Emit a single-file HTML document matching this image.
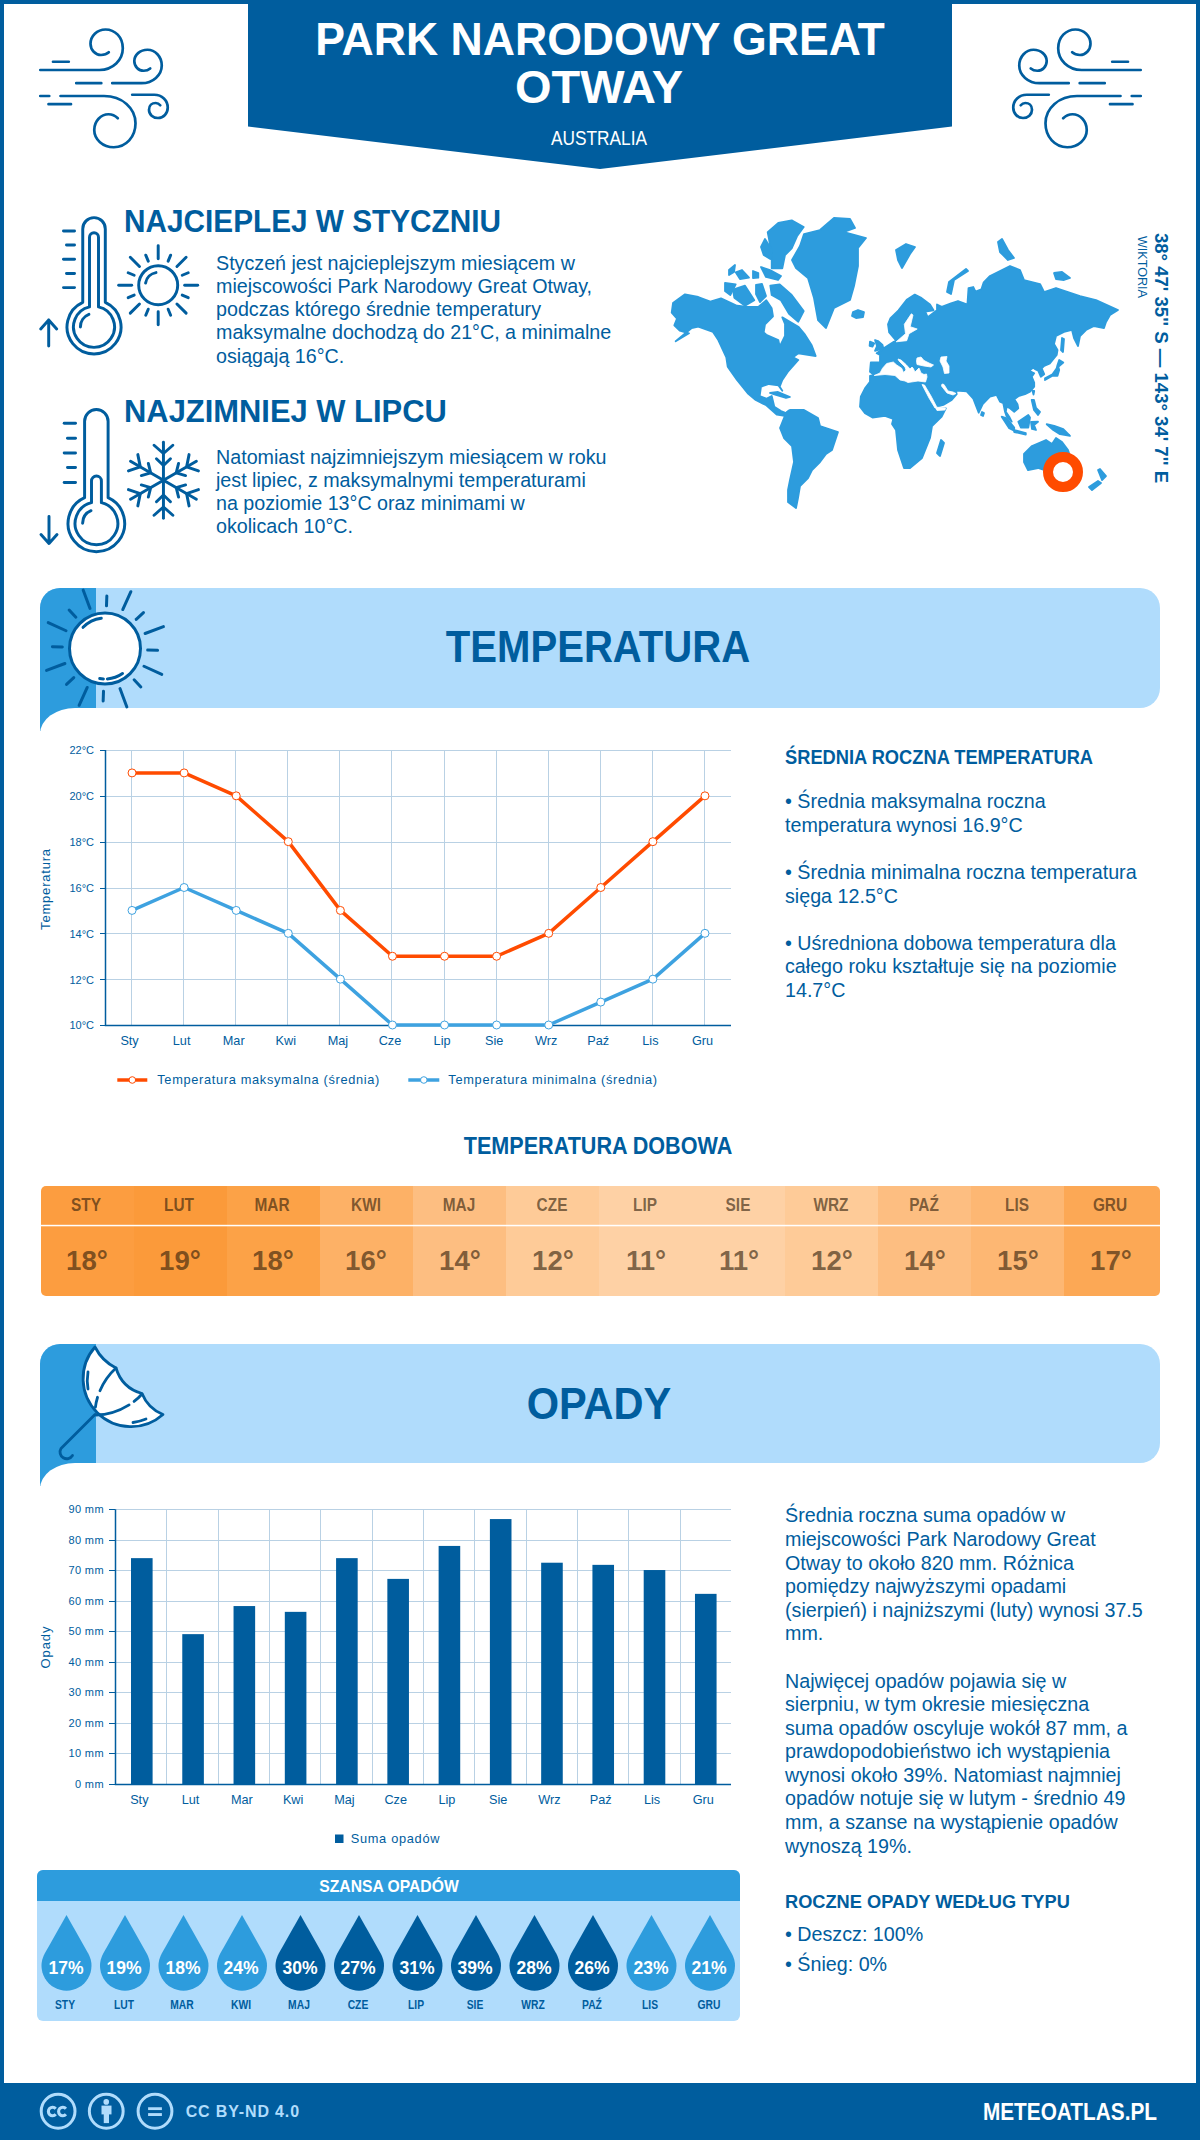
<!DOCTYPE html>
<html><head><meta charset="utf-8"><style>
html,body{margin:0;padding:0;}
body{width:1200px;height:2140px;position:relative;overflow:hidden;background:#fff;font-family:"Liberation Sans", sans-serif;}
.t{position:absolute;white-space:nowrap;line-height:1;}
.p{position:absolute;white-space:nowrap;}
svg{position:absolute;left:0;top:0;}
</style></head><body>
<svg width="1200" height="2140" viewBox="0 0 1200 2140"><rect x="0" y="0" width="1200" height="2140" fill="#005d9e"/><rect x="4" y="4" width="1192" height="2136" fill="#fff"/><polygon points="248,0 952,0 952,126.5 600,169 248,126.5" fill="#005d9e"/><g fill="none" stroke="#005d9e" stroke-width="2.7" stroke-linecap="round"><path d="M1140.7,70 H1081.5 C1068,70 1058.2,60 1058.2,48.25 C1058.2,37 1066,29.5 1075.5,29.5 C1084,29.5 1090.5,36 1090.5,43.75 C1090.5,50 1085.5,55 1080,55 C1076.5,55 1074,54 1072.2,52.3 M1112.2,61.75 H1128 M1068.75,83.2 H1039.5 C1028,83.2 1019.25,75 1019.25,65.5 C1019.25,56.5 1026,49.75 1033.5,49.75 C1041,49.75 1046.7,55 1046.7,61 C1046.7,66.5 1042.5,70.75 1037.25,70.75 C1034.5,70.75 1032.3,69.8 1030.8,68.5 M1079.7,83.2 H1104.75 M1120.5,96 H1077 C1059,96 1045.5,108 1045.5,123.25 C1045.5,137 1055,147.25 1067.25,147.25 C1078,147.25 1086.75,139.5 1086.75,130 C1086.75,121 1080,114.25 1072.5,114.25 C1068.5,114.25 1065.5,116 1063.2,118.3 M1131.75,96 H1140.75 M1110,104.2 H1132.5 M1048.8,94.75 H1026.75 C1019,94.75 1013.25,100.5 1013.25,107.5 C1013.25,113.5 1017.5,118 1023,118 C1028,118 1032,114.5 1032,109.75 C1032,105.5 1029,103 1025.25,103 C1023.3,103 1021.8,104 1020.75,105.25"/><path transform="translate(1181,0) scale(-1,1)" d="M1140.7,70 H1081.5 C1068,70 1058.2,60 1058.2,48.25 C1058.2,37 1066,29.5 1075.5,29.5 C1084,29.5 1090.5,36 1090.5,43.75 C1090.5,50 1085.5,55 1080,55 C1076.5,55 1074,54 1072.2,52.3 M1112.2,61.75 H1128 M1068.75,83.2 H1039.5 C1028,83.2 1019.25,75 1019.25,65.5 C1019.25,56.5 1026,49.75 1033.5,49.75 C1041,49.75 1046.7,55 1046.7,61 C1046.7,66.5 1042.5,70.75 1037.25,70.75 C1034.5,70.75 1032.3,69.8 1030.8,68.5 M1079.7,83.2 H1104.75 M1120.5,96 H1077 C1059,96 1045.5,108 1045.5,123.25 C1045.5,137 1055,147.25 1067.25,147.25 C1078,147.25 1086.75,139.5 1086.75,130 C1086.75,121 1080,114.25 1072.5,114.25 C1068.5,114.25 1065.5,116 1063.2,118.3 M1131.75,96 H1140.75 M1110,104.2 H1132.5 M1048.8,94.75 H1026.75 C1019,94.75 1013.25,100.5 1013.25,107.5 C1013.25,113.5 1017.5,118 1023,118 C1028,118 1032,114.5 1032,109.75 C1032,105.5 1029,103 1025.25,103 C1023.3,103 1021.8,104 1020.75,105.25"/></g></svg><div class="t" style="left:100.00px;width:1000px;text-align:center;top:16.01px;font-size:46.3px;font-weight:bold;color:#fff;transform:scaleX(0.963);transform-origin:center center;">PARK NARODOWY GREAT</div><div class="t" style="left:98.50px;width:1000px;text-align:center;top:64.01px;font-size:46.3px;font-weight:bold;color:#fff;transform:scaleX(1.015);transform-origin:center center;">OTWAY</div><div class="t" style="left:99.00px;width:1000px;text-align:center;top:129.49px;font-size:19.5px;font-weight:normal;color:#fff;transform:scaleX(0.886);transform-origin:center center;">AUSTRALIA</div><div class="t" style="left:124.00px;top:205.56px;font-size:31px;font-weight:bold;color:#005d9e;transform:scaleX(0.96);transform-origin:left center;">NAJCIEPLEJ W STYCZNIU</div><div class="p" style="left:216px;top:251.55px;font-size:19.7px;line-height:23.25px;font-weight:normal;color:#005d9e">Styczeń jest najcieplejszym miesiącem w<br>miejscowości Park Narodowy Great Otway,<br>podczas którego średnie temperatury<br>maksymalne dochodzą do 21°C, a minimalne<br>osiągają 16°C.</div><div class="t" style="left:124.00px;top:395.56px;font-size:31px;font-weight:bold;color:#005d9e;transform:scaleX(0.997);transform-origin:left center;">NAJZIMNIEJ W LIPCU</div><div class="p" style="left:216px;top:445.52px;font-size:19.7px;line-height:23.3px;font-weight:normal;color:#005d9e">Natomiast najzimniejszym miesiącem w roku<br>jest lipiec, z maksymalnymi temperaturami<br>na poziomie 13°C oraz minimami w<br>okolicach 10°C.</div><svg width="1200" height="2140" viewBox="0 0 1200 2140"><g fill="none" stroke="#005d9e" stroke-width="2.95" stroke-linecap="round" stroke-linejoin="round"><path d="M82.75,302.37 V228.88 A11.274999999999999,11.274999999999999 0 0 1 105.3,228.88 V302.37 A27.0,27.0 0 1 1 82.75,302.37 Z"/><path d="M89.5,306.90 V237.30 A4.5,4.5 0 0 1 98.5,237.30 V306.90 A20.5,20.5 0 1 1 89.5,306.90 Z"/><path d="M63.5,231 H74.5"/><path d="M66.5,245 H74.5"/><path d="M63.5,259.3 H74.5"/><path d="M66.5,273.5 H74.5"/><path d="M63.5,287.6 H74.5"/><path d="M48.7,346 V320 M40.7,329 L48.7,320 L56.7,329"/><path d="M84.6,497.65 V421.25 A11.75,11.75 0 0 1 108.1,421.25 V497.65 A28.3,28.3 0 1 1 84.6,497.65 Z"/><path d="M91.5,502.63 V480.95 A4.950000000000003,4.950000000000003 0 0 1 101.4,480.95 V502.63 A21.35,21.35 0 1 1 91.5,502.63 Z"/><path d="M64.2,423.2 H75.5"/><path d="M67.5,438.2 H75.5"/><path d="M64.2,452.9 H75.5"/><path d="M67.5,467.5 H75.5"/><path d="M64.2,482.5 H75.5"/><path d="M49,516.5 V543.5 M41,534.5 L49,543.5 L57,534.5"/><path d="M80.40,326.90 A13.6,13.6 0 0 1 88.91,314.29"/><path d="M82.60,523.16 A13.8,13.8 0 0 1 91.01,510.70"/><circle cx="158.2" cy="285.2" r="19.5"/><path d="M145.59,282.98 A12.8,12.8 0 0 1 155.98,272.59"/><path d="M184.70,285.20 L197.70,285.20"/><path d="M182.22,295.15 L188.23,297.64"/><path d="M176.94,303.94 L186.13,313.13"/><path d="M168.15,309.22 L170.64,315.23"/><path d="M158.20,311.70 L158.20,324.70"/><path d="M148.25,309.22 L145.76,315.23"/><path d="M139.46,303.94 L130.27,313.13"/><path d="M134.18,295.15 L128.17,297.64"/><path d="M131.70,285.20 L118.70,285.20"/><path d="M134.18,275.25 L128.17,272.76"/><path d="M139.46,266.46 L130.27,257.27"/><path d="M148.25,261.18 L145.76,255.17"/><path d="M158.20,258.70 L158.20,245.70"/><path d="M168.15,261.18 L170.64,255.17"/><path d="M176.94,266.46 L186.13,257.27"/><path d="M182.22,275.25 L188.23,272.76"/><path d="M163.45,480.25 L163.45,442.25"/><path d="M172.85,445.25 L163.45,453.50 L154.05,445.25"/><path d="M170.45,458.75 L163.45,465.50 L156.45,458.75"/><path d="M163.45,480.25 L130.54,461.25"/><path d="M137.84,454.61 L140.28,466.88 L128.44,470.89"/><path d="M148.33,463.44 L150.68,472.88 L141.33,475.56"/><path d="M163.45,480.25 L130.54,499.25"/><path d="M128.44,489.61 L140.28,493.62 L137.84,505.89"/><path d="M141.33,484.94 L150.68,487.62 L148.33,497.06"/><path d="M163.45,480.25 L163.45,518.25"/><path d="M154.05,515.25 L163.45,507.00 L172.85,515.25"/><path d="M156.45,501.75 L163.45,495.00 L170.45,501.75"/><path d="M163.45,480.25 L196.36,499.25"/><path d="M189.06,505.89 L186.62,493.62 L198.46,489.61"/><path d="M178.57,497.06 L176.22,487.62 L185.57,484.94"/><path d="M163.45,480.25 L196.36,461.25"/><path d="M198.46,470.89 L186.62,466.88 L189.06,454.61"/><path d="M185.57,475.56 L176.22,472.88 L178.57,463.44"/></g></svg><svg width="1200" height="2140" viewBox="0 0 1200 2140"><g fill="#2d9cdd" stroke="#2d9cdd" stroke-width="1.8" stroke-linejoin="round"><polygon points="671.7,312.7 673.0,303.0 685.0,294.3 698.3,297.0 710.3,301.7 721.0,298.3 737.0,305.7 747.7,307.0 758.3,307.0 766.3,300.3 771.7,308.3 773.0,316.3 765.0,324.3 763.7,332.3 766.3,334.7 778.3,340.0 779.7,346.7 785.0,336.0 785.0,324.0 782.3,317.3 798.3,326.7 805.0,334.7 811.7,345.3 815.7,356.0 798.3,353.3 793.0,357.3 798.3,360.0 787.7,372.0 782.3,380.0 779.7,386.7 782.3,390.7 778.3,385.3 769.0,384.0 761.0,386.7 759.7,396.0 766.3,398.7 771.7,396.0 773.0,401.3 774.3,406.7 781.0,411.0 786.0,413.0 789.0,410.5 790.0,412.0 786.0,416.0 777.0,414.7 766.3,405.3 755.7,400.0 747.7,393.3 737.0,380.0 727.7,366.7 726.3,357.3 718.3,340.0 713.0,332.0 698.3,326.7 691.7,328.0 675.7,341.3 689.0,333.3 679.7,330.7 674.3,325.3 677.0,318.7"/><polygon points="770.0,393.0 778.0,392.0 790.0,397.0 786.0,398.0 776.0,395.0"/><polygon points="767.7,232.3 778.3,223.0 791.7,220.3 803.7,227.0 797.0,236.3 791.7,248.3 785.0,255.0 782.3,268.3 771.7,268.3 771.7,255.0 769.0,239.0"/><polygon points="761.0,247.0 765.0,239.0 771.7,249.7 770.3,259.0 763.7,255.0"/><polygon points="770.3,285.7 779.7,284.3 791.7,295.0 803.7,311.0 798.3,321.7 789.0,313.7 781.0,300.3 771.7,295.0"/><polygon points="733.0,289.7 745.0,285.7 754.3,300.3 745.0,305.7 734.3,297.7"/><polygon points="725.0,283.0 735.7,284.3 730.3,295.0 725.0,291.0"/><polygon points="735.7,272.3 742.0,270.0 749.0,277.7 740.0,279.0"/><polygon points="753.0,271.0 758.3,273.0 758.3,277.7 753.0,278.0"/><polygon points="761.0,267.0 770.0,270.0 781.0,276.0 778.0,280.0 766.0,277.0"/><polygon points="729.0,270.0 735.0,265.0 734.0,272.0 729.0,275.0"/><polygon points="756.0,285.0 762.0,284.0 766.0,296.0 760.0,302.0 756.0,294.0"/><polygon points="792.0,260.0 800.0,246.0 804.0,234.0 820.0,230.0 834.0,218.0 850.0,219.0 855.0,228.0 844.0,232.0 866.0,238.0 858.0,248.0 858.0,266.0 854.0,286.0 850.0,300.0 834.0,308.0 826.0,328.0 818.0,320.0 814.0,298.0 808.0,278.0 796.0,268.0"/><polygon points="853.0,312.0 858.0,310.0 864.0,312.0 863.0,317.0 856.0,318.0 852.0,316.0"/><polygon points="896.0,250.0 906.0,244.0 915.0,247.0 910.0,254.0 902.0,268.0 898.0,260.0"/><polygon points="966.0,269.0 968.0,271.0 954.0,280.0 951.0,294.0 947.0,292.0 949.0,282.0"/><polygon points="998.0,242.0 1002.0,239.0 1008.0,250.0 1014.0,258.0 1008.0,260.0 1000.0,252.0"/><polygon points="1054.0,273.0 1062.0,272.0 1070.0,278.0 1064.0,280.0 1056.0,279.0"/><polygon points="888.0,324.3 890.3,318.5 898.5,310.3 906.7,299.8 914.8,294.6 920.7,297.5 930.0,304.5 933.5,310.3 925.3,311.5 927.7,317.3 937.0,310.3 937.0,304.5 941.7,306.8 951.0,303.3 958.0,301.0 967.4,304.5 968.5,288.2 973.2,287.0 975.5,291.7 981.4,289.3 983.7,282.3 990.0,276.0 1010.0,266.0 1020.0,270.0 1024.0,280.0 1040.0,284.0 1044.0,292.0 1056.0,288.0 1080.0,296.0 1096.0,300.0 1118.0,310.0 1110.0,315.0 1106.0,322.0 1104.0,328.0 1094.0,326.0 1086.0,330.0 1080.0,336.0 1078.0,346.0 1074.0,338.0 1072.0,330.0 1064.0,332.0 1056.0,336.0 1054.0,344.0 1057.5,350.0 1056.7,355.0 1050.0,363.3 1044.2,365.8 1041.7,368.3 1044.2,374.2 1040.8,376.7 1038.3,370.8 1035.0,369.2 1033.3,367.5 1029.2,370.8 1034.2,373.3 1031.7,376.7 1034.2,382.5 1034.2,386.7 1030.0,391.7 1025.0,394.2 1019.2,395.8 1014.2,399.2 1017.5,404.2 1018.3,408.3 1014.2,411.7 1010.0,408.3 1006.7,406.7 1005.8,411.7 1009.2,416.7 1011.7,421.7 1006.7,416.7 1005.0,411.7 1003.3,403.3 1000.0,401.7 996.7,395.0 990.0,396.7 988.0,398.7 982.7,404.0 978.7,412.7 973.3,398.7 966.7,391.3 956.0,390.7 956.7,394.2 951.7,400.0 943.3,405.0 936.7,406.7 935.3,405.3 925.3,388.0 922.7,384.0 906.7,383.9 895.0,376.8 876.0,376.0 874.2,375.0 870.0,371.7 870.8,362.5 880.0,362.5 880.0,355.0 876.7,353.3 883.3,348.5 893.8,341.8 896.2,340.7 889.2,332.5"/><polygon points="874.2,375.0 870.0,375.8 870.0,381.7 865.0,388.3 860.8,396.7 860.0,406.7 865.0,413.3 872.5,417.5 885.0,415.8 893.3,419.0 892.0,424.0 896.0,430.0 898.0,450.0 904.0,468.0 910.0,468.0 922.0,458.0 930.0,438.0 932.0,426.0 941.7,416.7 945.8,408.3 936.7,408.3 935.3,405.3 925.3,388.0 922.7,384.0 906.7,383.9 895.0,376.8 876.0,376.0"/><polygon points="780.0,428.0 786.0,413.0 790.0,410.0 804.0,410.0 818.0,418.0 820.0,426.0 838.0,432.0 832.0,450.0 826.0,454.0 820.0,462.0 812.0,470.0 808.0,478.0 800.0,486.0 798.0,498.0 796.0,508.0 788.0,502.0 788.0,490.0 790.0,480.0 794.0,462.0 792.0,446.0 784.0,438.0"/><polygon points="1024.0,454.0 1032.0,446.0 1046.0,440.0 1052.0,444.0 1056.0,438.0 1062.0,442.0 1068.0,450.0 1072.0,462.0 1068.0,474.0 1050.0,472.0 1038.0,468.0 1028.0,470.0 1024.0,462.0"/><polygon points="1058.0,478.0 1064.0,478.0 1062.0,484.0"/><polygon points="1098.0,470.0 1100.0,469.0 1106.0,476.0 1102.0,480.0"/><polygon points="1098.0,481.0 1101.0,483.0 1092.0,490.0 1089.0,487.0"/><polygon points="941.0,440.0 944.0,443.0 940.0,456.0 937.0,453.0"/><polygon points="1018.3,421.7 1028.3,415.0 1030.0,417.5 1028.3,427.5 1020.8,427.5"/><polygon points="1001.7,416.7 1006.7,418.3 1014.2,427.5 1014.2,430.8 1009.2,428.3"/><polygon points="1014.2,430.0 1025.8,433.0 1025.8,434.5 1014.2,432.0"/><polygon points="1031.0,422.0 1038.0,421.7 1034.0,425.0 1036.0,430.0 1032.0,429.0"/><polygon points="1046.7,424.2 1054.2,425.8 1063.3,429.2 1070.0,435.8 1060.0,434.2 1053.3,430.0"/><polygon points="1031.7,400.0 1034.0,400.0 1036.0,408.0 1040.0,412.0 1038.0,415.0 1034.0,410.0"/><polygon points="1032.5,390.8 1034.2,391.0 1033.5,394.5"/><polygon points="1059.2,360.0 1063.3,362.5 1058.3,366.7 1059.2,370.0 1057.5,375.8 1052.5,375.8 1045.0,380.0 1045.0,378.3 1052.5,374.2 1056.7,368.3 1057.5,365.0"/><polygon points="1062.0,338.0 1064.0,339.0 1063.0,352.0 1061.0,350.0"/><polygon points="875.0,340.0 878.0,341.0 882.5,345.0 883.3,348.3 875.0,350.8 877.0,346.0"/><polygon points="870.0,341.7 874.2,343.3 872.5,346.7 869.6,345.8"/><polygon points="982.0,412.0 984.0,413.0 983.0,416.0 981.0,415.0"/></g><g fill="#fff" stroke="#fff" stroke-width="0.8" stroke-linejoin="round"><polygon points="874.2,375.5 880.0,373.0 882.5,368.3 886.7,363.5 893.3,362.0 896.7,365.0 901.7,368.3 903.5,372.5 906.0,370.0 905.0,367.0 899.0,361.0 898.0,359.0 901.0,360.0 906.0,364.5 910.0,369.0 912.0,367.0 913.0,368.0 915.0,372.0 917.0,370.0 919.0,368.0 921.0,373.0 924.0,374.5 926.5,374.0 927.0,377.0 925.5,382.0 918.0,381.0 908.0,382.5 905.0,381.0 900.0,380.0 895.0,375.5 885.0,374.5"/><polygon points="917.0,358.0 921.0,357.0 924.0,360.5 930.0,363.5 933.5,365.0 931.0,367.0 924.0,366.0 917.0,364.5 916.5,361.0"/><polygon points="941.0,357.0 947.0,356.5 946.0,361.0 949.0,366.0 949.0,373.0 944.5,373.5 943.0,367.0 940.0,361.0"/><polygon points="911.3,313.8 904.3,324.3 905.5,333.7 896.2,341.8 906.7,340.7 909.0,333.7 917.2,329.0 910.2,326.7 913.0,315.0"/><polygon points="922.0,384.5 924.5,385.0 931.0,396.0 936.5,406.5 935.0,408.0 929.0,398.0"/><polygon points="935.0,407.0 945.5,408.0 945.0,410.0 937.0,410.5"/><polygon points="942.0,384.0 944.0,384.5 948.0,391.0 953.0,392.0 956.0,393.5 953.0,395.0 947.0,393.0 941.5,386.0"/></g><circle cx="1063" cy="472" r="15" fill="#fff" stroke="#ff4b00" stroke-width="10"/></svg><div class="t" style="left:1160.8px;top:357.5px;font-size:18.6px;font-weight:bold;color:#005d9e;transform:translate(-50%,-50%) rotate(90deg);">38° 47' 35'' S — 143° 34' 7'' E</div><div class="t" style="left:1141.6px;top:267px;font-size:12.6px;color:#005d9e;transform:translate(-50%,-50%) rotate(90deg);">WIKTORIA</div><div style="position:absolute;left:39.5px;top:588px;width:1120.5px;height:120px;background:#b0dcfc;border-radius:20px 20px 20px 0;"></div><div style="position:absolute;left:39.5px;top:588px;width:56.5px;height:143px;background:#2d9cdd;border-top-left-radius:20px;"></div><div style="position:absolute;left:39.5px;top:708px;width:200px;height:40px;background:#fff;border-top-left-radius:35px 26px;"></div><div class="t" style="left:98.20px;width:1000px;text-align:center;top:625.46px;font-size:44.7px;font-weight:bold;color:#005d9e;transform:scaleX(0.897);transform-origin:center center;">TEMPERATURA</div><svg width="1200" height="2140" viewBox="0 0 1200 2140"><g fill="none" stroke="#005d9e" stroke-width="3" stroke-linecap="round"><circle cx="105" cy="648.5" r="35.5" fill="#fff"/><path d="M106.49,605.83 L106.84,595.93"/><path d="M122.75,609.55 L130.88,591.72"/><path d="M136.23,619.38 L143.47,612.63"/><path d="M145.09,633.51 L163.45,626.65"/><path d="M147.67,649.99 L157.57,650.34"/><path d="M143.95,666.25 L161.78,674.38"/><path d="M134.12,679.73 L140.87,686.97"/><path d="M119.99,688.59 L126.85,706.95"/><path d="M103.51,691.17 L103.16,701.07"/><path d="M87.25,687.45 L79.12,705.28"/><path d="M73.77,677.62 L66.53,684.37"/><path d="M64.91,663.49 L46.55,670.35"/><path d="M62.33,647.01 L52.43,646.66"/><path d="M66.05,630.75 L48.22,622.62"/><path d="M75.88,617.27 L69.13,610.03"/><path d="M90.01,608.41 L83.15,590.05"/><path d="M83.06,627.31 A30.5,30.5 0 0 1 101.28,618.23"/><path d="M99.70,678.54 A30.5,30.5 0 0 0 103.40,678.96"/><path d="M107.39,678.91 A30.5,30.5 0 0 0 122.49,673.48"/></g></svg><div style="position:absolute;left:39.5px;top:1344px;width:1120.5px;height:118.5px;background:#b0dcfc;border-radius:20px 20px 20px 0;"></div><div style="position:absolute;left:39.5px;top:1344px;width:56.5px;height:142px;background:#2d9cdd;border-top-left-radius:20px;"></div><div style="position:absolute;left:39.5px;top:1462.5px;width:200px;height:40px;background:#fff;border-top-left-radius:35px 26px;"></div><div class="t" style="left:99.30px;width:1000px;text-align:center;top:1381.66px;font-size:44.7px;font-weight:bold;color:#005d9e;transform:scaleX(0.93);transform-origin:center center;">OPADY</div><svg width="1200" height="2140" viewBox="0 0 1200 2140"><g fill="none" stroke="#005d9e" stroke-width="2.8" stroke-linecap="round" stroke-linejoin="round"><path fill="#fff" d="M95,1347 Q102,1361 116,1368 Q122,1388 142,1393.5 Q148,1408.5 163,1414.5 A48,48 0 0 1 95,1347 Z"/><path d="M95,1414.5 L61,1448.5 A6.2,6.2 0 0 0 72.5,1455.5"/><path stroke-dasharray="28 7 10 40" d="M116,1368 C105,1378 95,1395 95,1414"/><path stroke-dasharray="35 6 11 40" d="M96,1415 C110,1415 130,1408 142,1394"/><path d="M88,1372 Q86.5,1381 88,1389"/><path d="M133,1422.5 Q140,1421.5 146,1419"/></g></svg><svg width="1200" height="2140" viewBox="0 0 1200 2140"><path d="M100,1025.5 H106" stroke="#005d9e" stroke-width="1"/><path d="M106,979.5 H731" stroke="#b9d1e4" stroke-width="1"/><path d="M100,979.5 H106" stroke="#005d9e" stroke-width="1"/><path d="M106,933.5 H731" stroke="#b9d1e4" stroke-width="1"/><path d="M100,933.5 H106" stroke="#005d9e" stroke-width="1"/><path d="M106,888.5 H731" stroke="#b9d1e4" stroke-width="1"/><path d="M100,888.5 H106" stroke="#005d9e" stroke-width="1"/><path d="M106,842.5 H731" stroke="#b9d1e4" stroke-width="1"/><path d="M100,842.5 H106" stroke="#005d9e" stroke-width="1"/><path d="M106,796.5 H731" stroke="#b9d1e4" stroke-width="1"/><path d="M100,796.5 H106" stroke="#005d9e" stroke-width="1"/><path d="M106,750.5 H731" stroke="#b9d1e4" stroke-width="1"/><path d="M100,750.5 H106" stroke="#005d9e" stroke-width="1"/><path d="M131.5,750 V1025" stroke="#b9d1e4" stroke-width="1"/><path d="M183.5,750 V1025" stroke="#b9d1e4" stroke-width="1"/><path d="M235.5,750 V1025" stroke="#b9d1e4" stroke-width="1"/><path d="M287.5,750 V1025" stroke="#b9d1e4" stroke-width="1"/><path d="M339.5,750 V1025" stroke="#b9d1e4" stroke-width="1"/><path d="M391.5,750 V1025" stroke="#b9d1e4" stroke-width="1"/><path d="M444.5,750 V1025" stroke="#b9d1e4" stroke-width="1"/><path d="M496.5,750 V1025" stroke="#b9d1e4" stroke-width="1"/><path d="M548.5,750 V1025" stroke="#b9d1e4" stroke-width="1"/><path d="M600.5,750 V1025" stroke="#b9d1e4" stroke-width="1"/><path d="M652.5,750 V1025" stroke="#b9d1e4" stroke-width="1"/><path d="M704.5,750 V1025" stroke="#b9d1e4" stroke-width="1"/><path d="M105.5,750 V1025.5 H731" stroke="#005d9e" stroke-width="1.5" fill="none"/><polyline points="132.04,910.42 184.12,887.50 236.21,910.42 288.29,933.33 340.38,979.17 392.46,1025.00 444.54,1025.00 496.62,1025.00 548.71,1025.00 600.79,1002.08 652.88,979.17 704.96,933.33" fill="none" stroke="#3ea2e0" stroke-width="3.5" stroke-linejoin="round"/><circle cx="132.04" cy="910.42" r="4" fill="#fff" stroke="#3ea2e0" stroke-width="1"/><circle cx="184.12" cy="887.50" r="4" fill="#fff" stroke="#3ea2e0" stroke-width="1"/><circle cx="236.21" cy="910.42" r="4" fill="#fff" stroke="#3ea2e0" stroke-width="1"/><circle cx="288.29" cy="933.33" r="4" fill="#fff" stroke="#3ea2e0" stroke-width="1"/><circle cx="340.38" cy="979.17" r="4" fill="#fff" stroke="#3ea2e0" stroke-width="1"/><circle cx="392.46" cy="1025.00" r="4" fill="#fff" stroke="#3ea2e0" stroke-width="1"/><circle cx="444.54" cy="1025.00" r="4" fill="#fff" stroke="#3ea2e0" stroke-width="1"/><circle cx="496.62" cy="1025.00" r="4" fill="#fff" stroke="#3ea2e0" stroke-width="1"/><circle cx="548.71" cy="1025.00" r="4" fill="#fff" stroke="#3ea2e0" stroke-width="1"/><circle cx="600.79" cy="1002.08" r="4" fill="#fff" stroke="#3ea2e0" stroke-width="1"/><circle cx="652.88" cy="979.17" r="4" fill="#fff" stroke="#3ea2e0" stroke-width="1"/><circle cx="704.96" cy="933.33" r="4" fill="#fff" stroke="#3ea2e0" stroke-width="1"/><polyline points="132.04,772.92 184.12,772.92 236.21,795.83 288.29,841.67 340.38,910.42 392.46,956.25 444.54,956.25 496.62,956.25 548.71,933.33 600.79,887.50 652.88,841.67 704.96,795.83" fill="none" stroke="#ff4b00" stroke-width="3.5" stroke-linejoin="round"/><circle cx="132.04" cy="772.92" r="4" fill="#fff" stroke="#ff4b00" stroke-width="1"/><circle cx="184.12" cy="772.92" r="4" fill="#fff" stroke="#ff4b00" stroke-width="1"/><circle cx="236.21" cy="795.83" r="4" fill="#fff" stroke="#ff4b00" stroke-width="1"/><circle cx="288.29" cy="841.67" r="4" fill="#fff" stroke="#ff4b00" stroke-width="1"/><circle cx="340.38" cy="910.42" r="4" fill="#fff" stroke="#ff4b00" stroke-width="1"/><circle cx="392.46" cy="956.25" r="4" fill="#fff" stroke="#ff4b00" stroke-width="1"/><circle cx="444.54" cy="956.25" r="4" fill="#fff" stroke="#ff4b00" stroke-width="1"/><circle cx="496.62" cy="956.25" r="4" fill="#fff" stroke="#ff4b00" stroke-width="1"/><circle cx="548.71" cy="933.33" r="4" fill="#fff" stroke="#ff4b00" stroke-width="1"/><circle cx="600.79" cy="887.50" r="4" fill="#fff" stroke="#ff4b00" stroke-width="1"/><circle cx="652.88" cy="841.67" r="4" fill="#fff" stroke="#ff4b00" stroke-width="1"/><circle cx="704.96" cy="795.83" r="4" fill="#fff" stroke="#ff4b00" stroke-width="1"/><path d="M117.3,1080 H147.3" stroke="#ff4b00" stroke-width="3.5"/><circle cx="132.3" cy="1080" r="3.3" fill="#fff" stroke="#ff4b00" stroke-width="1"/><path d="M408.3,1080 H439.3" stroke="#3ea2e0" stroke-width="3.5"/><circle cx="423.8" cy="1080" r="3.3" fill="#fff" stroke="#3ea2e0" stroke-width="1"/></svg><div class="t" style="left:-906.00px;width:1000px;text-align:right;top:1020.49px;font-size:11px;font-weight:normal;color:#005d9e;">10°C</div><div class="t" style="left:-906.00px;width:1000px;text-align:right;top:974.66px;font-size:11px;font-weight:normal;color:#005d9e;">12°C</div><div class="t" style="left:-906.00px;width:1000px;text-align:right;top:928.82px;font-size:11px;font-weight:normal;color:#005d9e;">14°C</div><div class="t" style="left:-906.00px;width:1000px;text-align:right;top:882.99px;font-size:11px;font-weight:normal;color:#005d9e;">16°C</div><div class="t" style="left:-906.00px;width:1000px;text-align:right;top:837.16px;font-size:11px;font-weight:normal;color:#005d9e;">18°C</div><div class="t" style="left:-906.00px;width:1000px;text-align:right;top:791.32px;font-size:11px;font-weight:normal;color:#005d9e;">20°C</div><div class="t" style="left:-906.00px;width:1000px;text-align:right;top:745.49px;font-size:11px;font-weight:normal;color:#005d9e;">22°C</div><div class="t" style="left:-370.46px;width:1000px;text-align:center;top:1035.25px;font-size:12.7px;font-weight:normal;color:#005d9e;">Sty</div><div class="t" style="left:-318.38px;width:1000px;text-align:center;top:1035.25px;font-size:12.7px;font-weight:normal;color:#005d9e;">Lut</div><div class="t" style="left:-266.29px;width:1000px;text-align:center;top:1035.25px;font-size:12.7px;font-weight:normal;color:#005d9e;">Mar</div><div class="t" style="left:-214.21px;width:1000px;text-align:center;top:1035.25px;font-size:12.7px;font-weight:normal;color:#005d9e;">Kwi</div><div class="t" style="left:-162.12px;width:1000px;text-align:center;top:1035.25px;font-size:12.7px;font-weight:normal;color:#005d9e;">Maj</div><div class="t" style="left:-110.04px;width:1000px;text-align:center;top:1035.25px;font-size:12.7px;font-weight:normal;color:#005d9e;">Cze</div><div class="t" style="left:-57.96px;width:1000px;text-align:center;top:1035.25px;font-size:12.7px;font-weight:normal;color:#005d9e;">Lip</div><div class="t" style="left:-5.88px;width:1000px;text-align:center;top:1035.25px;font-size:12.7px;font-weight:normal;color:#005d9e;">Sie</div><div class="t" style="left:46.21px;width:1000px;text-align:center;top:1035.25px;font-size:12.7px;font-weight:normal;color:#005d9e;">Wrz</div><div class="t" style="left:98.29px;width:1000px;text-align:center;top:1035.25px;font-size:12.7px;font-weight:normal;color:#005d9e;">Paź</div><div class="t" style="left:150.38px;width:1000px;text-align:center;top:1035.25px;font-size:12.7px;font-weight:normal;color:#005d9e;">Lis</div><div class="t" style="left:202.46px;width:1000px;text-align:center;top:1035.25px;font-size:12.7px;font-weight:normal;color:#005d9e;">Gru</div><div class="t" style="left:45px;top:888.5px;font-size:13px;letter-spacing:0.8px;color:#005d9e;transform:translate(-50%,-50%) rotate(-90deg);">Temperatura</div><div class="t" style="left:157.30px;top:1073.66px;font-size:12.8px;font-weight:normal;color:#005d9e;letter-spacing:0.67px;">Temperatura maksymalna (średnia)</div><div class="t" style="left:448.30px;top:1073.66px;font-size:12.8px;font-weight:normal;color:#005d9e;letter-spacing:0.7px;">Temperatura minimalna (średnia)</div><div class="t" style="left:785.00px;top:747.07px;font-size:20px;font-weight:bold;color:#005d9e;transform:scaleX(0.914);transform-origin:left center;">ŚREDNIA ROCZNA TEMPERATURA</div><div class="p" style="left:785px;top:790.17px;font-size:19.7px;line-height:23.6px;font-weight:normal;color:#005d9e">• Średnia maksymalna roczna<br>temperatura wynosi 16.9°C<br><br>• Średnia minimalna roczna temperatura<br>sięga 12.5°C<br><br>• Uśredniona dobowa temperatura dla<br>całego roku kształtuje się na poziomie<br>14.7°C</div><div class="t" style="left:98.25px;width:1000px;text-align:center;top:1135.11px;font-size:23.5px;font-weight:bold;color:#005d9e;transform:scaleX(0.918);transform-origin:center center;">TEMPERATURA DOBOWA</div><svg width="1200" height="2140" viewBox="0 0 1200 2140"><clipPath id="tbl"><rect x="41" y="1186" width="1119" height="110" rx="5"/></clipPath><g clip-path="url(#tbl)"><rect x="41" y="1186" width="93" height="110" fill="#fc9d40" shape-rendering="crispEdges"/><rect x="134" y="1186" width="93" height="110" fill="#fb9a3a" shape-rendering="crispEdges"/><rect x="227" y="1186" width="93" height="110" fill="#fca247" shape-rendering="crispEdges"/><rect x="320" y="1186" width="93" height="110" fill="#fdb166" shape-rendering="crispEdges"/><rect x="413" y="1186" width="93" height="110" fill="#fdbe81" shape-rendering="crispEdges"/><rect x="506" y="1186" width="93" height="110" fill="#fecb98" shape-rendering="crispEdges"/><rect x="599" y="1186" width="93" height="110" fill="#fed1a5" shape-rendering="crispEdges"/><rect x="692" y="1186" width="93" height="110" fill="#fed1a5" shape-rendering="crispEdges"/><rect x="785" y="1186" width="93" height="110" fill="#fecb98" shape-rendering="crispEdges"/><rect x="878" y="1186" width="93" height="110" fill="#fdbe81" shape-rendering="crispEdges"/><rect x="971" y="1186" width="93" height="110" fill="#fdb773" shape-rendering="crispEdges"/><rect x="1064" y="1186" width="96" height="110" fill="#fca855" shape-rendering="crispEdges"/><rect x="41" y="1224.8" width="1119" height="1.5" fill="#fff"/></g></svg><div class="t" style="left:-413.75px;width:1000px;text-align:center;top:1196.94px;font-size:17.5px;font-weight:bold;color:rgba(45,28,10,0.62);transform:scaleX(0.88);transform-origin:center center;">STY</div><div class="t" style="left:-412.90px;width:1000px;text-align:center;top:1246.88px;font-size:27.9px;font-weight:bold;color:rgba(45,28,10,0.62);transform:scaleX(0.99);transform-origin:center center;">18°</div><div class="t" style="left:-320.64px;width:1000px;text-align:center;top:1196.94px;font-size:17.5px;font-weight:bold;color:rgba(45,28,10,0.62);transform:scaleX(0.88);transform-origin:center center;">LUT</div><div class="t" style="left:-319.80px;width:1000px;text-align:center;top:1246.88px;font-size:27.9px;font-weight:bold;color:rgba(45,28,10,0.62);transform:scaleX(0.99);transform-origin:center center;">19°</div><div class="t" style="left:-227.53px;width:1000px;text-align:center;top:1196.94px;font-size:17.5px;font-weight:bold;color:rgba(45,28,10,0.62);transform:scaleX(0.88);transform-origin:center center;">MAR</div><div class="t" style="left:-226.70px;width:1000px;text-align:center;top:1246.88px;font-size:27.9px;font-weight:bold;color:rgba(45,28,10,0.62);transform:scaleX(0.99);transform-origin:center center;">18°</div><div class="t" style="left:-134.42px;width:1000px;text-align:center;top:1196.94px;font-size:17.5px;font-weight:bold;color:rgba(45,28,10,0.62);transform:scaleX(0.88);transform-origin:center center;">KWI</div><div class="t" style="left:-133.60px;width:1000px;text-align:center;top:1246.88px;font-size:27.9px;font-weight:bold;color:rgba(45,28,10,0.62);transform:scaleX(0.99);transform-origin:center center;">16°</div><div class="t" style="left:-41.31px;width:1000px;text-align:center;top:1196.94px;font-size:17.5px;font-weight:bold;color:rgba(45,28,10,0.62);transform:scaleX(0.88);transform-origin:center center;">MAJ</div><div class="t" style="left:-40.50px;width:1000px;text-align:center;top:1246.88px;font-size:27.9px;font-weight:bold;color:rgba(45,28,10,0.62);transform:scaleX(0.99);transform-origin:center center;">14°</div><div class="t" style="left:51.80px;width:1000px;text-align:center;top:1196.94px;font-size:17.5px;font-weight:bold;color:rgba(45,28,10,0.62);transform:scaleX(0.88);transform-origin:center center;">CZE</div><div class="t" style="left:52.60px;width:1000px;text-align:center;top:1246.88px;font-size:27.9px;font-weight:bold;color:rgba(45,28,10,0.62);transform:scaleX(0.99);transform-origin:center center;">12°</div><div class="t" style="left:144.91px;width:1000px;text-align:center;top:1196.94px;font-size:17.5px;font-weight:bold;color:rgba(45,28,10,0.62);transform:scaleX(0.88);transform-origin:center center;">LIP</div><div class="t" style="left:145.70px;width:1000px;text-align:center;top:1246.88px;font-size:27.9px;font-weight:bold;color:rgba(45,28,10,0.62);transform:scaleX(0.99);transform-origin:center center;">11°</div><div class="t" style="left:238.02px;width:1000px;text-align:center;top:1196.94px;font-size:17.5px;font-weight:bold;color:rgba(45,28,10,0.62);transform:scaleX(0.88);transform-origin:center center;">SIE</div><div class="t" style="left:238.80px;width:1000px;text-align:center;top:1246.88px;font-size:27.9px;font-weight:bold;color:rgba(45,28,10,0.62);transform:scaleX(0.99);transform-origin:center center;">11°</div><div class="t" style="left:331.13px;width:1000px;text-align:center;top:1196.94px;font-size:17.5px;font-weight:bold;color:rgba(45,28,10,0.62);transform:scaleX(0.88);transform-origin:center center;">WRZ</div><div class="t" style="left:331.90px;width:1000px;text-align:center;top:1246.88px;font-size:27.9px;font-weight:bold;color:rgba(45,28,10,0.62);transform:scaleX(0.99);transform-origin:center center;">12°</div><div class="t" style="left:424.24px;width:1000px;text-align:center;top:1196.94px;font-size:17.5px;font-weight:bold;color:rgba(45,28,10,0.62);transform:scaleX(0.88);transform-origin:center center;">PAŹ</div><div class="t" style="left:425.00px;width:1000px;text-align:center;top:1246.88px;font-size:27.9px;font-weight:bold;color:rgba(45,28,10,0.62);transform:scaleX(0.99);transform-origin:center center;">14°</div><div class="t" style="left:517.35px;width:1000px;text-align:center;top:1196.94px;font-size:17.5px;font-weight:bold;color:rgba(45,28,10,0.62);transform:scaleX(0.88);transform-origin:center center;">LIS</div><div class="t" style="left:518.10px;width:1000px;text-align:center;top:1246.88px;font-size:27.9px;font-weight:bold;color:rgba(45,28,10,0.62);transform:scaleX(0.99);transform-origin:center center;">15°</div><div class="t" style="left:610.46px;width:1000px;text-align:center;top:1196.94px;font-size:17.5px;font-weight:bold;color:rgba(45,28,10,0.62);transform:scaleX(0.88);transform-origin:center center;">GRU</div><div class="t" style="left:611.20px;width:1000px;text-align:center;top:1246.88px;font-size:27.9px;font-weight:bold;color:rgba(45,28,10,0.62);transform:scaleX(0.99);transform-origin:center center;">17°</div><svg width="1200" height="2140" viewBox="0 0 1200 2140"><path d="M109,1784.5 H115" stroke="#005d9e" stroke-width="1"/><path d="M115,1753.5 H731" stroke="#b9d1e4" stroke-width="1"/><path d="M109,1753.5 H115" stroke="#005d9e" stroke-width="1"/><path d="M115,1723.5 H731" stroke="#b9d1e4" stroke-width="1"/><path d="M109,1723.5 H115" stroke="#005d9e" stroke-width="1"/><path d="M115,1692.5 H731" stroke="#b9d1e4" stroke-width="1"/><path d="M109,1692.5 H115" stroke="#005d9e" stroke-width="1"/><path d="M115,1662.5 H731" stroke="#b9d1e4" stroke-width="1"/><path d="M109,1662.5 H115" stroke="#005d9e" stroke-width="1"/><path d="M115,1631.5 H731" stroke="#b9d1e4" stroke-width="1"/><path d="M109,1631.5 H115" stroke="#005d9e" stroke-width="1"/><path d="M115,1601.5 H731" stroke="#b9d1e4" stroke-width="1"/><path d="M109,1601.5 H115" stroke="#005d9e" stroke-width="1"/><path d="M115,1570.5 H731" stroke="#b9d1e4" stroke-width="1"/><path d="M109,1570.5 H115" stroke="#005d9e" stroke-width="1"/><path d="M115,1540.5 H731" stroke="#b9d1e4" stroke-width="1"/><path d="M109,1540.5 H115" stroke="#005d9e" stroke-width="1"/><path d="M115,1509.5 H731" stroke="#b9d1e4" stroke-width="1"/><path d="M109,1509.5 H115" stroke="#005d9e" stroke-width="1"/><path d="M166.5,1509.3 V1784" stroke="#b9d1e4" stroke-width="1"/><path d="M218.5,1509.3 V1784" stroke="#b9d1e4" stroke-width="1"/><path d="M269.5,1509.3 V1784" stroke="#b9d1e4" stroke-width="1"/><path d="M320.5,1509.3 V1784" stroke="#b9d1e4" stroke-width="1"/><path d="M372.5,1509.3 V1784" stroke="#b9d1e4" stroke-width="1"/><path d="M423.5,1509.3 V1784" stroke="#b9d1e4" stroke-width="1"/><path d="M474.5,1509.3 V1784" stroke="#b9d1e4" stroke-width="1"/><path d="M526.5,1509.3 V1784" stroke="#b9d1e4" stroke-width="1"/><path d="M577.5,1509.3 V1784" stroke="#b9d1e4" stroke-width="1"/><path d="M628.5,1509.3 V1784" stroke="#b9d1e4" stroke-width="1"/><path d="M680.5,1509.3 V1784" stroke="#b9d1e4" stroke-width="1"/><path d="M115.5,1509.3 V1784.5 H731" stroke="#005d9e" stroke-width="1.5" fill="none"/><rect x="131.00" y="1558.14" width="21.6" height="225.86" fill="#005d9e"/><rect x="182.27" y="1634.14" width="21.6" height="149.86" fill="#005d9e"/><rect x="233.54" y="1606.06" width="21.6" height="177.94" fill="#005d9e"/><rect x="284.81" y="1611.85" width="21.6" height="172.15" fill="#005d9e"/><rect x="336.08" y="1558.14" width="21.6" height="225.86" fill="#005d9e"/><rect x="387.35" y="1578.89" width="21.6" height="205.11" fill="#005d9e"/><rect x="438.62" y="1545.93" width="21.6" height="238.07" fill="#005d9e"/><rect x="489.89" y="1519.07" width="21.6" height="264.93" fill="#005d9e"/><rect x="541.16" y="1562.71" width="21.6" height="221.29" fill="#005d9e"/><rect x="592.43" y="1564.85" width="21.6" height="219.15" fill="#005d9e"/><rect x="643.70" y="1570.04" width="21.6" height="213.96" fill="#005d9e"/><rect x="694.97" y="1593.85" width="21.6" height="190.15" fill="#005d9e"/><rect x="335" y="1834.5" width="8.5" height="8.5" fill="#005d9e"/></svg><div class="t" style="left:-896.00px;width:1000px;text-align:right;top:1778.69px;font-size:11px;font-weight:normal;color:#005d9e;letter-spacing:0.4px;">0 mm</div><div class="t" style="left:-896.00px;width:1000px;text-align:right;top:1748.17px;font-size:11px;font-weight:normal;color:#005d9e;letter-spacing:0.4px;">10 mm</div><div class="t" style="left:-896.00px;width:1000px;text-align:right;top:1717.64px;font-size:11px;font-weight:normal;color:#005d9e;letter-spacing:0.4px;">20 mm</div><div class="t" style="left:-896.00px;width:1000px;text-align:right;top:1687.12px;font-size:11px;font-weight:normal;color:#005d9e;letter-spacing:0.4px;">30 mm</div><div class="t" style="left:-896.00px;width:1000px;text-align:right;top:1656.60px;font-size:11px;font-weight:normal;color:#005d9e;letter-spacing:0.4px;">40 mm</div><div class="t" style="left:-896.00px;width:1000px;text-align:right;top:1626.08px;font-size:11px;font-weight:normal;color:#005d9e;letter-spacing:0.4px;">50 mm</div><div class="t" style="left:-896.00px;width:1000px;text-align:right;top:1595.56px;font-size:11px;font-weight:normal;color:#005d9e;letter-spacing:0.4px;">60 mm</div><div class="t" style="left:-896.00px;width:1000px;text-align:right;top:1565.03px;font-size:11px;font-weight:normal;color:#005d9e;letter-spacing:0.4px;">70 mm</div><div class="t" style="left:-896.00px;width:1000px;text-align:right;top:1534.51px;font-size:11px;font-weight:normal;color:#005d9e;letter-spacing:0.4px;">80 mm</div><div class="t" style="left:-896.00px;width:1000px;text-align:right;top:1503.99px;font-size:11px;font-weight:normal;color:#005d9e;letter-spacing:0.4px;">90 mm</div><div class="t" style="left:-360.70px;width:1000px;text-align:center;top:1794.25px;font-size:12.7px;font-weight:normal;color:#005d9e;">Sty</div><div class="t" style="left:-309.43px;width:1000px;text-align:center;top:1794.25px;font-size:12.7px;font-weight:normal;color:#005d9e;">Lut</div><div class="t" style="left:-258.16px;width:1000px;text-align:center;top:1794.25px;font-size:12.7px;font-weight:normal;color:#005d9e;">Mar</div><div class="t" style="left:-206.89px;width:1000px;text-align:center;top:1794.25px;font-size:12.7px;font-weight:normal;color:#005d9e;">Kwi</div><div class="t" style="left:-155.62px;width:1000px;text-align:center;top:1794.25px;font-size:12.7px;font-weight:normal;color:#005d9e;">Maj</div><div class="t" style="left:-104.35px;width:1000px;text-align:center;top:1794.25px;font-size:12.7px;font-weight:normal;color:#005d9e;">Cze</div><div class="t" style="left:-53.08px;width:1000px;text-align:center;top:1794.25px;font-size:12.7px;font-weight:normal;color:#005d9e;">Lip</div><div class="t" style="left:-1.81px;width:1000px;text-align:center;top:1794.25px;font-size:12.7px;font-weight:normal;color:#005d9e;">Sie</div><div class="t" style="left:49.46px;width:1000px;text-align:center;top:1794.25px;font-size:12.7px;font-weight:normal;color:#005d9e;">Wrz</div><div class="t" style="left:100.73px;width:1000px;text-align:center;top:1794.25px;font-size:12.7px;font-weight:normal;color:#005d9e;">Paź</div><div class="t" style="left:152.00px;width:1000px;text-align:center;top:1794.25px;font-size:12.7px;font-weight:normal;color:#005d9e;">Lis</div><div class="t" style="left:203.27px;width:1000px;text-align:center;top:1794.25px;font-size:12.7px;font-weight:normal;color:#005d9e;">Gru</div><div class="t" style="left:45px;top:1646.7px;font-size:13px;letter-spacing:0.9px;color:#005d9e;transform:translate(-50%,-50%) rotate(-90deg);">Opady</div><div class="t" style="left:350.70px;top:1832.96px;font-size:12.8px;font-weight:normal;color:#005d9e;letter-spacing:0.7px;">Suma opadów</div><div class="p" style="left:785px;top:1504.37px;font-size:19.7px;line-height:23.6px;font-weight:normal;color:#005d9e">Średnia roczna suma opadów w<br>miejscowości Park Narodowy Great<br>Otway to około 820 mm. Różnica<br>pomiędzy najwyższymi opadami<br>(sierpień) i najniższymi (luty) wynosi 37.5<br>mm.<br><br>Najwięcej opadów pojawia się w<br>sierpniu, w tym okresie miesięczna<br>suma opadów oscyluje wokół 87 mm, a<br>prawdopodobieństwo ich wystąpienia<br>wynosi około 39%. Natomiast najmniej<br>opadów notuje się w lutym - średnio 49<br>mm, a szanse na wystąpienie opadów<br>wynoszą 19%.</div><div class="t" style="left:785.00px;top:1892.42px;font-size:19px;font-weight:bold;color:#005d9e;transform:scaleX(0.959);transform-origin:left center;">ROCZNE OPADY WEDŁUG TYPU</div><div class="t" style="left:785.00px;top:1925.12px;font-size:19.7px;font-weight:normal;color:#005d9e;">• Deszcz: 100%</div><div class="t" style="left:785.00px;top:1954.82px;font-size:19.7px;font-weight:normal;color:#005d9e;">• Śnieg: 0%</div><div style="position:absolute;left:37px;top:1870px;width:703px;height:151px;background:#b0dcfc;border-radius:6px;overflow:hidden;"><div style="position:absolute;left:0;top:0;width:703px;height:31px;background:#2d9cdd;"></div></div><div class="t" style="left:-111.00px;width:1000px;text-align:center;top:1879.41px;font-size:15.7px;font-weight:bold;color:#fff;">SZANSA OPADÓW</div><svg width="1200" height="2140" viewBox="0 0 1200 2140"><path d="M66.50,1914.95 L88.26,1953.38 A25,25 0 1 1 44.74,1953.38 Z" fill="#2d9cdd"/><path d="M125.00,1914.95 L146.76,1953.38 A25,25 0 1 1 103.24,1953.38 Z" fill="#2d9cdd"/><path d="M183.50,1914.95 L205.26,1953.38 A25,25 0 1 1 161.74,1953.38 Z" fill="#2d9cdd"/><path d="M242.00,1914.95 L263.76,1953.38 A25,25 0 1 1 220.24,1953.38 Z" fill="#2d9cdd"/><path d="M300.50,1914.95 L322.26,1953.38 A25,25 0 1 1 278.74,1953.38 Z" fill="#005d9e"/><path d="M359.00,1914.95 L380.76,1953.38 A25,25 0 1 1 337.24,1953.38 Z" fill="#005d9e"/><path d="M417.50,1914.95 L439.26,1953.38 A25,25 0 1 1 395.74,1953.38 Z" fill="#005d9e"/><path d="M476.00,1914.95 L497.76,1953.38 A25,25 0 1 1 454.24,1953.38 Z" fill="#005d9e"/><path d="M534.50,1914.95 L556.26,1953.38 A25,25 0 1 1 512.74,1953.38 Z" fill="#005d9e"/><path d="M593.00,1914.95 L614.76,1953.38 A25,25 0 1 1 571.24,1953.38 Z" fill="#005d9e"/><path d="M651.50,1914.95 L673.26,1953.38 A25,25 0 1 1 629.74,1953.38 Z" fill="#2d9cdd"/><path d="M710.00,1914.95 L731.76,1953.38 A25,25 0 1 1 688.24,1953.38 Z" fill="#2d9cdd"/></svg><div class="t" style="left:-434.30px;width:1000px;text-align:center;top:1958.68px;font-size:18.1px;font-weight:bold;color:#fff;transform:scaleX(0.97);transform-origin:center center;">17%</div><div class="t" style="left:-434.70px;width:1000px;text-align:center;top:1998.58px;font-size:12.9px;font-weight:bold;color:#005d9e;transform:scaleX(0.8);transform-origin:center center;">STY</div><div class="t" style="left:-375.80px;width:1000px;text-align:center;top:1958.68px;font-size:18.1px;font-weight:bold;color:#fff;transform:scaleX(0.97);transform-origin:center center;">19%</div><div class="t" style="left:-376.20px;width:1000px;text-align:center;top:1998.58px;font-size:12.9px;font-weight:bold;color:#005d9e;transform:scaleX(0.8);transform-origin:center center;">LUT</div><div class="t" style="left:-317.30px;width:1000px;text-align:center;top:1958.68px;font-size:18.1px;font-weight:bold;color:#fff;transform:scaleX(0.97);transform-origin:center center;">18%</div><div class="t" style="left:-317.70px;width:1000px;text-align:center;top:1998.58px;font-size:12.9px;font-weight:bold;color:#005d9e;transform:scaleX(0.8);transform-origin:center center;">MAR</div><div class="t" style="left:-258.80px;width:1000px;text-align:center;top:1958.68px;font-size:18.1px;font-weight:bold;color:#fff;transform:scaleX(0.97);transform-origin:center center;">24%</div><div class="t" style="left:-259.20px;width:1000px;text-align:center;top:1998.58px;font-size:12.9px;font-weight:bold;color:#005d9e;transform:scaleX(0.8);transform-origin:center center;">KWI</div><div class="t" style="left:-200.30px;width:1000px;text-align:center;top:1958.68px;font-size:18.1px;font-weight:bold;color:#fff;transform:scaleX(0.97);transform-origin:center center;">30%</div><div class="t" style="left:-200.70px;width:1000px;text-align:center;top:1998.58px;font-size:12.9px;font-weight:bold;color:#005d9e;transform:scaleX(0.8);transform-origin:center center;">MAJ</div><div class="t" style="left:-141.80px;width:1000px;text-align:center;top:1958.68px;font-size:18.1px;font-weight:bold;color:#fff;transform:scaleX(0.97);transform-origin:center center;">27%</div><div class="t" style="left:-142.20px;width:1000px;text-align:center;top:1998.58px;font-size:12.9px;font-weight:bold;color:#005d9e;transform:scaleX(0.8);transform-origin:center center;">CZE</div><div class="t" style="left:-83.30px;width:1000px;text-align:center;top:1958.68px;font-size:18.1px;font-weight:bold;color:#fff;transform:scaleX(0.97);transform-origin:center center;">31%</div><div class="t" style="left:-83.70px;width:1000px;text-align:center;top:1998.58px;font-size:12.9px;font-weight:bold;color:#005d9e;transform:scaleX(0.8);transform-origin:center center;">LIP</div><div class="t" style="left:-24.80px;width:1000px;text-align:center;top:1958.68px;font-size:18.1px;font-weight:bold;color:#fff;transform:scaleX(0.97);transform-origin:center center;">39%</div><div class="t" style="left:-25.20px;width:1000px;text-align:center;top:1998.58px;font-size:12.9px;font-weight:bold;color:#005d9e;transform:scaleX(0.8);transform-origin:center center;">SIE</div><div class="t" style="left:33.70px;width:1000px;text-align:center;top:1958.68px;font-size:18.1px;font-weight:bold;color:#fff;transform:scaleX(0.97);transform-origin:center center;">28%</div><div class="t" style="left:33.30px;width:1000px;text-align:center;top:1998.58px;font-size:12.9px;font-weight:bold;color:#005d9e;transform:scaleX(0.8);transform-origin:center center;">WRZ</div><div class="t" style="left:92.20px;width:1000px;text-align:center;top:1958.68px;font-size:18.1px;font-weight:bold;color:#fff;transform:scaleX(0.97);transform-origin:center center;">26%</div><div class="t" style="left:91.80px;width:1000px;text-align:center;top:1998.58px;font-size:12.9px;font-weight:bold;color:#005d9e;transform:scaleX(0.8);transform-origin:center center;">PAŹ</div><div class="t" style="left:150.70px;width:1000px;text-align:center;top:1958.68px;font-size:18.1px;font-weight:bold;color:#fff;transform:scaleX(0.97);transform-origin:center center;">23%</div><div class="t" style="left:150.30px;width:1000px;text-align:center;top:1998.58px;font-size:12.9px;font-weight:bold;color:#005d9e;transform:scaleX(0.8);transform-origin:center center;">LIS</div><div class="t" style="left:209.20px;width:1000px;text-align:center;top:1958.68px;font-size:18.1px;font-weight:bold;color:#fff;transform:scaleX(0.97);transform-origin:center center;">21%</div><div class="t" style="left:208.80px;width:1000px;text-align:center;top:1998.58px;font-size:12.9px;font-weight:bold;color:#005d9e;transform:scaleX(0.8);transform-origin:center center;">GRU</div><div style="position:absolute;left:0;top:2083px;width:1200px;height:57px;background:#005d9e;"></div><svg width="1200" height="2140" viewBox="0 0 1200 2140"><circle cx="58.1" cy="2111.25" r="16.9" fill="none" stroke="#b0dcfc" stroke-width="3"/><circle cx="106.25" cy="2111.25" r="16.9" fill="none" stroke="#b0dcfc" stroke-width="3"/><circle cx="155" cy="2111.25" r="16.9" fill="none" stroke="#b0dcfc" stroke-width="3"/><path d="M55.72,2108.69 A4.2,4.2 0 1 0 55.72,2114.31" fill="none" stroke="#b0dcfc" stroke-width="3.1"/><path d="M65.92,2108.69 A4.2,4.2 0 1 0 65.92,2114.31" fill="none" stroke="#b0dcfc" stroke-width="3.1"/><circle cx="106.25" cy="2101.9" r="2.8" fill="#b0dcfc"/><rect x="101.5" y="2105.6" width="10" height="8.8" fill="#b0dcfc"/><rect x="103.75" y="2113" width="5.25" height="10.1" fill="#b0dcfc"/><rect x="148.1" y="2107.25" width="13.8" height="2.8" fill="#b0dcfc"/><rect x="148.1" y="2113.1" width="13.8" height="2.9" fill="#b0dcfc"/></svg><div class="t" style="left:185.70px;top:2103.76px;font-size:16px;font-weight:bold;color:#b0dcfc;letter-spacing:0.85px;">CC BY-ND 4.0</div><div class="t" style="left:157.30px;width:1000px;text-align:right;top:2099.85px;font-size:23.8px;font-weight:bold;color:#fff;transform:scaleX(0.874);transform-origin:right center;">METEOATLAS.PL</div>
</body></html>
